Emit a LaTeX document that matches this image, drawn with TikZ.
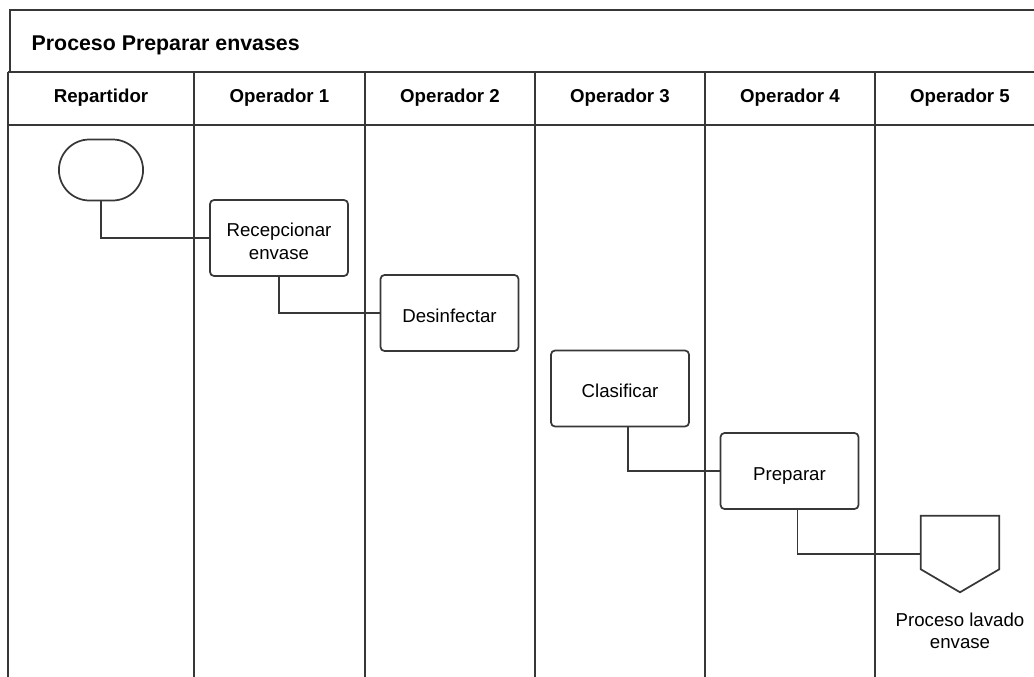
\documentclass[tikz,border=0pt]{standalone}
\usepackage{fontspec}
\setmainfont{Liberation Sans}
\usetikzlibrary{positioning,calc,shapes.misc}
\definecolor{lGray}{RGB}{55,55,55}

\begin{document}
\begin{tikzpicture}[x=0.75pt,y=-0.75pt,font=\fontsize{14}{16.8}\selectfont,
  act/.style={draw=lGray,line width=1.3pt,rounded corners=3pt,align=center,minimum width=103.5pt,minimum height=57pt,inner sep=2pt,text height=13.5pt,text depth=0pt},
  act2/.style={act,text height=31.5pt},
  hd/.style={font=\fontsize{14}{16.8}\selectfont\bfseries},
  ln/.style={draw=lGray,line width=1.3pt}]
  \useasboundingbox (0,0) rectangle (1034,677);
  \clip (0,0) rectangle (1034,677);
  % marco y carriles
  \draw[ln] (10,72) -- (10,10) -- (1050,10);
  \draw[ln] (8,72) -- (1050,72);
  \draw[ln] (8,125) -- (1050,125);
  \foreach \x in {8,194,365,535,705,875}
    \draw[ln] (\x,72) -- (\x,690);
  \node[anchor=west,font=\fontsize{16}{19}\selectfont\bfseries] (tit) at (27,45) {Proceso Preparar envases};
  \node[hd] (h0) at (101,98) {Repartidor};
  \foreach \x [count=\i] in {279.5,450,620,790,960}
    \node[hd] (h\i) at (\x,98) {Operador \i};
  % actividades
  \node[draw=lGray,line width=1.3pt,rounded rectangle,minimum width=69.75pt,minimum height=45.75pt] (ini) at (101,170) {};
  \node[act2] (rec) at (279,238) {Recepcionar\\envase};
  \node[act] (des) at (449.5,313) {Desinfectar};
  \node[act] (cla) at (620,388.5) {Clasificar};
  \node[act] (prep) at (789.5,471) {Preparar};
  \node[minimum width=58.5pt,minimum height=57pt,inner sep=0pt] (fin) at (960,554) {};
  \draw[ln] (fin.north west) -- (fin.north east) -- ($(fin.south east)+(0,-23)$)
    -- (fin.south) -- ($(fin.south west)+(0,-23)$) -- cycle;
  \node[below=15pt of fin,align=center,inner sep=0pt] (finl) {Proceso lavado\\envase};
  % conectores
  \draw[ln] (ini.south) |- (rec.west);
  \draw[ln] (rec.south) |- (des.west);
  \draw[ln] ([xshift=6pt]cla.south) |- (prep.west);
  \draw[ln] ([xshift=6pt]prep.south) |- (fin.west);
\end{tikzpicture}
\end{document}
